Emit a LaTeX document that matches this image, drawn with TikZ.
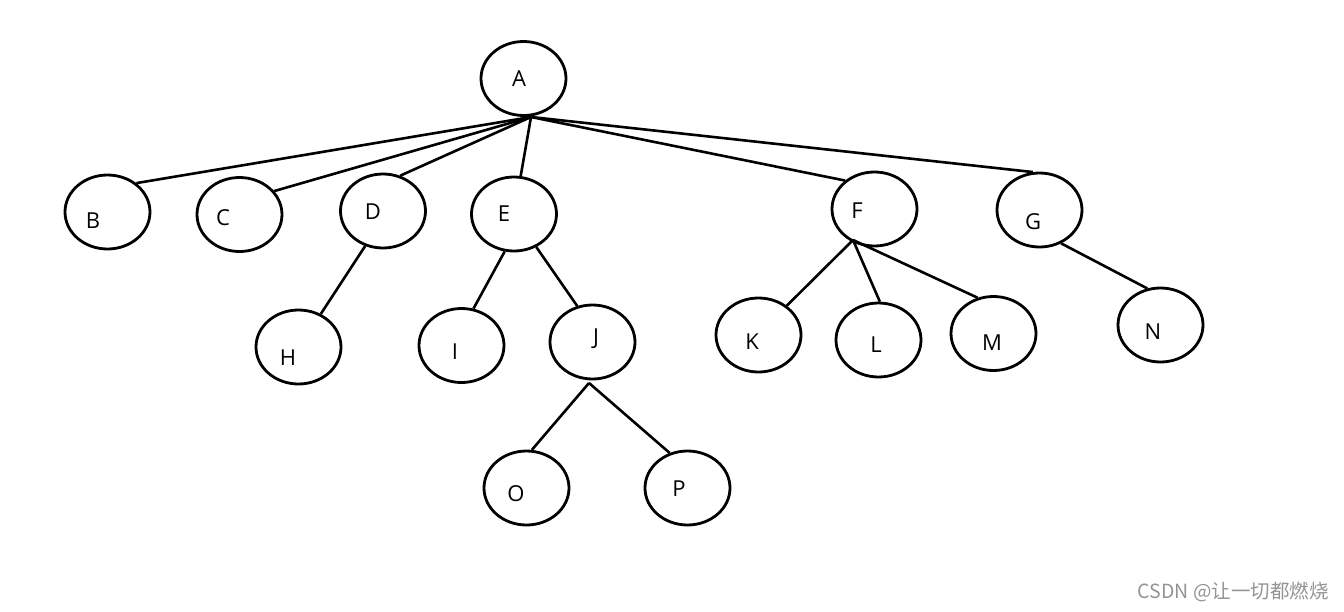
\documentclass[tikz,border=0pt]{standalone}
\usepackage{fontspec}
\usetikzlibrary{shapes.geometric}
\setmainfont{Open Sans}
\newfontfamily\cjkfont{Noto Sans CJK SC}
\begin{document}
\begin{tikzpicture}[x=1pt,y=-1pt,
  vert/.style={draw=black,line width=2.8pt,ellipse,minimum width=85pt,minimum height=74pt,inner sep=0pt},
  edge/.style={draw=black,line width=2.6pt},
  every label/.style={font=\fontsize{22}{25}\selectfont,inner sep=0pt}]
\useasboundingbox[fill=white] (0,0) rectangle (1344,611);
% nodes
\node[vert,label={[xshift=-4.5pt,yshift=-0.5pt]center:A}] (A) at (523.5,78.5) {};
\node[vert,label={[xshift=-14.5pt,yshift=-9pt]center:B}] (B) at (107.5,212) {};
\node[vert,label={[xshift=-16.5pt,yshift=-3.5pt]center:C}] (C) at (239.5,214.5) {};
\node[vert,label={[xshift=-10pt,yshift=-1pt]center:D}] (D) at (383,211) {};
\node[vert,label={[xshift=-10pt,yshift=0pt]center:E}] (E) at (514,214) {};
\node[vert,label={[xshift=-17.5pt,yshift=-2pt]center:F}] (F) at (874.5,209) {};
\node[vert,label={[xshift=-6.5pt,yshift=-12pt]center:G}] (G) at (1039.5,210) {};
\node[vert,label={[xshift=-10.5pt,yshift=-11pt]center:H}] (H) at (298.5,347) {};
\node[vert,label={[xshift=-6.5pt,yshift=-6.5pt]center:I}] (I) at (461.5,345.5) {};
\node[vert,label={[xshift=3.5pt,yshift=3pt]center:J}] (J) at (592.5,342) {};
\node[vert,label={[xshift=-6.5pt,yshift=-7pt]center:K}] (K) at (758.5,335) {};
\node[vert,label={[xshift=-2.5pt,yshift=-5pt]center:L}] (L) at (878.5,340) {};
\node[vert,label={[xshift=-1.5pt,yshift=-9.5pt]center:M}] (M) at (993.5,333.5) {};
\node[vert,label={[xshift=-7.5pt,yshift=-7pt]center:N}] (N) at (1160.5,325) {};
\node[vert,label={[xshift=-10.5pt,yshift=-6pt]center:O}] (O) at (526.5,488) {};
\node[vert,label={[xshift=-8.5pt,yshift=-1pt]center:P}] (P) at (687.5,488) {};
% junction points
\coordinate (a0) at (531,117);
\coordinate (f0) at (853,240);
\coordinate (j0) at (589,383);
% edges
\draw[edge] (a0) -- (B.45);
\draw[edge] (a0) -- (C.34);
\draw[edge] (a0) -- (D.64);
\draw[edge] (a0) -- (E.80);
\draw[edge] (a0) -- (F.136);
\draw[edge] (a0) -- (G.100);
\draw[edge] (D.243) -- (H.56);
\draw[edge] (E.256) -- (I.72);
\draw[edge] (E.304) -- (J.113);
\draw[edge] (f0) -- (K.46);
\draw[edge] (f0) -- (L.88);
\draw[edge] (f0) -- (M.114);
\draw[edge] (G.303) -- (N.110);
\draw[edge] (j0) -- (O.82);
\draw[edge] (j0) -- (P.117);
% watermark
\node[anchor=east,text=black!42,font=\cjkfont\fontsize{19.5}{22}\selectfont,inner sep=0pt] (wm) at (1329,592) {CSDN @让一切都燃烧};
\end{tikzpicture}
\end{document}
